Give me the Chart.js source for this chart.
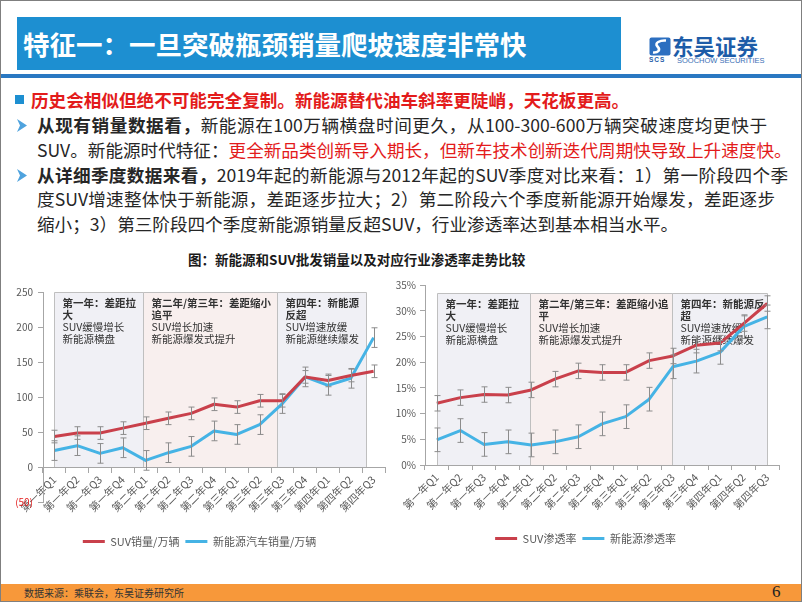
<!DOCTYPE html>
<html lang="zh-CN">
<head>
<meta charset="utf-8">
<title>特征一：一旦突破瓶颈销量爬坡速度非常快</title>
<script src="https://cdn.jsdelivr.net/npm/chart.js@4.4.1/dist/chart.umd.min.js"></script>
<style>
  html, body { margin: 0; padding: 0; background: #fff; }
  body { width: 802px; height: 602px; position: relative; overflow: hidden;
         font-family: 'Noto Sans CJK SC', 'Noto Sans', sans-serif; color: #262626; }
  .abs { position: absolute; }
  #frame { left: 0; top: 0; width: 802px; height: 602px; box-sizing: border-box;
           border: 1px solid #7f7f7f; pointer-events: none; }
  #titlebar { left: 17px; top: 17px; width: 604px; height: 53px; background: #1d8fd1; }
  #title { left: 23px; top: 17px; line-height: 53px; font-size: 26.5px; font-weight: bold;
           color: #fff; white-space: nowrap; }
  #rule { left: 0; top: 74px; width: 802px; height: 4px; background: #2a78c2; }
  .txt { font-size: 17.6px; line-height: 24px; height: 24px; white-space: nowrap; }
  .just { text-align: justify; text-align-last: justify; }
  .red { color: #e31b1b; }
  b { font-weight: bold; }
  #chartTitle { left: 188px; top: 250px; font-size: 13.5px; font-weight: bold; line-height: 18px;
                color: #1a1a1a; white-space: nowrap; }
  canvas { position: absolute; }
  #footer { left: 0; top: 584px; width: 802px; height: 18px; background: #f7983a; }
  #source { left: 24px; top: 585px; font-size: 10px; line-height: 15px; color: #333; white-space: nowrap; }
  #page { left: 772px; top: 582px; font-family: 'Liberation Serif', serif; font-size: 17px;
          line-height: 20px; color: #222; }
</style>
</head>
<body>
  <div id="titlebar" class="abs"></div>
  <div id="title" class="abs">特征一：一旦突破瓶颈销量爬坡速度非常快</div>

  <!-- logo -->
  <svg class="abs" style="left:649px;top:37px" width="22" height="19" viewBox="0 0 22 19">
    <rect x="0.5" y="0.5" width="21" height="18" rx="2" fill="#2c6fc0"/>
    <path d="M17 3.5 C11 3 5 6 8.5 9.5 C12 13 9 16 4 15.5" stroke="#fff" stroke-width="2.6" fill="none"/>
  </svg>
  <div class="abs" style="left:649px;top:56px;font:bold 6.5px 'Liberation Sans',sans-serif;color:#1d5ca8;letter-spacing:1px">SCS</div>
  <div class="abs" style="left:672px;top:33px;font-size:21.5px;font-weight:bold;line-height:26px;color:#1d5ca8;white-space:nowrap">东吴证券</div>
  <div class="abs" style="left:677px;top:56px;font:7.5px 'Liberation Sans',sans-serif;color:#3a6fb5;white-space:nowrap">SOOCHOW SECURITIES</div>

  <div id="rule" class="abs"></div>

  <!-- bullets -->
  <div class="abs" style="left:15px;top:95px;width:9px;height:9px;background:#1d8fd1"></div>
  <div class="abs txt" style="left:31px;top:88px"><b class="red">历史会相似但绝不可能完全复制。新能源替代油车斜率更陡峭，天花板更高。</b></div>

  <svg class="abs" style="left:17px;top:119px" width="10" height="13" viewBox="0 0 10 13">
    <path d="M0 0 L10 6.5 L0 13 L3 6.5 Z" fill="#4fa3de"/>
  </svg>
  <div class="abs txt just" style="left:37px;top:113px;width:730px"><b>从现有销量数据看，</b>新能源在100万辆横盘时间更久，从100-300-600万辆突破速度均更快于</div>
  <div class="abs txt just" style="left:37px;top:138px;width:751px">SUV。新能源时代特征：<span class="red">更全新品类创新导入期长，但新车技术创新迭代周期快导致上升速度快。</span></div>

  <svg class="abs" style="left:17px;top:169px" width="10" height="13" viewBox="0 0 10 13">
    <path d="M0 0 L10 6.5 L0 13 L3 6.5 Z" fill="#4fa3de"/>
  </svg>
  <div class="abs txt just" style="left:37px;top:163px;width:751px"><b>从详细季度数据来看，</b>2019年起的新能源与2012年起的SUV季度对比来看：1）第一阶段四个季</div>
  <div class="abs txt just" style="left:37px;top:187px;width:738px">度SUV增速整体快于新能源，差距逐步拉大；2）第二阶段六个季度新能源开始爆发，差距逐步</div>
  <div class="abs txt" style="left:37px;top:212px">缩小；3）第三阶段四个季度新能源销量反超SUV，行业渗透率达到基本相当水平。</div>

  <div id="chartTitle" class="abs">图：新能源和SUV批发销量以及对应行业渗透率走势比较</div>

  <canvas id="sales-chart" width="386" height="287" style="left:14px;top:270px"></canvas>
  <canvas id="share-chart" width="408" height="284" style="left:392px;top:270px"></canvas>

  <div id="footer" class="abs"></div>
  <div id="source" class="abs">数据来源：乘联会，东吴证券研究所</div>
  <div id="page" class="abs">6</div>

  <div id="frame" class="abs"></div>

<script>
// Chart data
const quarterLabels = ['第一年Q1', '第一年Q2', '第一年Q3', '第一年Q4', '第二年Q1', '第二年Q2', '第二年Q3', '第二年Q4',
  '第三年Q1', '第三年Q2', '第三年Q3', '第三年Q4', '第四年Q1', '第四年Q2', '第四年Q3'];

// 销量（万辆）
const suvSales = [44, 49, 49, 56, 63, 70, 77, 90, 86, 95, 95, 129, 124, 131, 137];
const nevSales = [24, 31, 20, 28, 10, 21, 30, 52, 47, 61, 91, 129, 117, 127, 185];
const suvSalesErr = [9, 9, 9, 9, 9, 9, 9, 9, 9, 9, 9, 9, 9, 9, 9];
const nevSalesErr = [14, 14, 14, 14, 14, 14, 14, 14, 14, 14, 14, 14, 14, 14, 14];
const salesTicks = [-50, 0, 50, 100, 150, 200, 250];

// 渗透率（%）
const suvShare = [12.0, 13.1, 13.7, 13.6, 14.6, 16.7, 18.3, 18.0, 18.0, 20.3, 21.2, 23.3, 23.7, 27.5, 31.4];
const nevShare = [4.9, 6.7, 4.0, 4.5, 3.9, 4.5, 5.5, 8.0, 9.4, 12.8, 19.1, 20.2, 21.9, 26.9, 28.8];
const suvShareErr = [1.5, 1.5, 1.5, 1.5, 1.5, 1.5, 1.5, 1.5, 1.5, 1.5, 1.5, 1.5, 1.5, 1.5, 1.5];
const nevShareErr = [2.3, 2.3, 2.3, 2.3, 2.3, 2.3, 2.3, 2.3, 2.3, 2.3, 2.3, 2.3, 2.3, 2.3, 2.3];
const shareTicks = [0, 5, 10, 15, 20, 25, 30, 35];

// Phase notes
const salesPhaseTitles = [['第一年：差距拉', '大'], ['第二年/第三年：差距缩小', '追平'], ['第四年：新能源', '反超']];
const sharePhaseTitles = [['第一年：差距拉', '大'], ['第二年/第三年：差距缩小追', '平'], ['第四年：新能源反', '超']];
const phaseNotes = [['SUV缓慢增长', '新能源横盘'], ['SUV增长加速', '新能源爆发式提升'], ['SUV增速放缓', '新能源继续爆发']];

const FONT = "'Noto Sans CJK SC', 'Noto Sans', sans-serif";
const AXIS_GRAY = '#a6a6a6';
const TEXT_GRAY = '#595959';
const SUV_RED = '#c9404b';
const NEV_BLUE = '#45b3e5';

Chart.defaults.font.family = FONT;
Chart.defaults.color = TEXT_GRAY;
Chart.defaults.animation = false;

// Shaded phase boxes behind the lines
const phasePlugin = {
  id: 'phases',
  beforeDraw(chart, args, opts) {
    const { ctx, scales: { x, y } } = chart;
    const yTop = Math.round(y.getPixelForValue(opts.top)) + 0.5;
    const yBottom = Math.round(y.getPixelForValue(0)) + 0.5;
    ctx.save();
    opts.spans.forEach((span, i) => {
      const x0 = Math.round(x.getPixelForValue(span[0])) + 0.5;
      const x1 = Math.round(x.getPixelForValue(span[1])) + 0.5;
      ctx.fillStyle = opts.fills[i];
      ctx.fillRect(x0, yTop, x1 - x0, yBottom - yTop);
      ctx.strokeStyle = '#bfbfbf';
      ctx.lineWidth = 1;
      ctx.beginPath();
      ctx.moveTo(x0, yBottom);
      ctx.lineTo(x0, yTop);
      ctx.lineTo(x1, yTop);
      ctx.lineTo(x1, yBottom);
      ctx.stroke();

      ctx.fillStyle = '#333';
      ctx.textBaseline = 'middle';
      ctx.textAlign = 'left';
      let ty = yTop + 11;
      ctx.font = 'bold 10.5px ' + FONT;
      opts.titles[i].forEach(line => { ctx.fillText(line, x0 + 8, ty); ty += 12; });
      ctx.font = '10.5px ' + FONT;
      opts.notes[i].forEach(line => { ctx.fillText(line, x0 + 8, ty); ty += 12; });
    });
    ctx.restore();
  }
};

// Error bars on top of the lines
const errorBarPlugin = {
  id: 'errorBars',
  afterDatasetsDraw(chart) {
    const { ctx, scales: { x, y } } = chart;
    ctx.save();
    ctx.strokeStyle = '#8c8c8c';
    ctx.lineWidth = 1;
    chart.data.datasets.forEach(ds => {
      ds.errors.forEach((err, i) => {
        const px = Math.round(x.getPixelForValue(i)) + 0.5;
        const top = y.getPixelForValue(ds.data[i] + err);
        const bottom = y.getPixelForValue(ds.data[i] - err);
        ctx.beginPath();
        ctx.moveTo(px, top);
        ctx.lineTo(px, bottom);
        ctx.moveTo(px - 3, top);
        ctx.lineTo(px + 3, top);
        ctx.moveTo(px - 3, bottom);
        ctx.lineTo(px + 3, bottom);
        ctx.stroke();
      });
    });
    ctx.restore();
  }
};

function lineDataset(label, data, errors, color) {
  return {
    label, data, errors,
    borderColor: color,
    backgroundColor: color,
    borderWidth: 3,
    pointRadius: 0,
    tension: 0,
    borderJoinStyle: 'round'
  };
}

// gap = empty legend title used as spacing above the legend row
function legendOptions(gap) {
  return {
    position: 'bottom',
    title: { display: gap > 0, text: '', font: { size: 10 }, padding: { top: Math.max(gap - 12, 0), bottom: 0 } },
    labels: {
      boxWidth: 22,
      boxHeight: 3,
      padding: 6,
      color: TEXT_GRAY,
      font: { size: 11 },
      generateLabels: chart => Chart.defaults.plugins.legend.labels.generateLabels(chart)
        .map(item => ({ ...item, lineWidth: 0 }))
    }
  };
}

const xTicks = { autoSkip: false, maxRotation: 45, minRotation: 45, font: { size: 10.5 }, padding: 1, color: TEXT_GRAY };
const axisGrid = { drawOnChartArea: false, tickLength: 5, color: AXIS_GRAY };

// Left: sales
new Chart(document.getElementById('sales-chart').getContext('2d'), {
  type: 'line',
  data: {
    labels: quarterLabels,
    datasets: [
      lineDataset('SUV销量/万辆', suvSales, suvSalesErr, SUV_RED),
      lineDataset('新能源汽车销量/万辆', nevSales, nevSalesErr, NEV_BLUE)
    ]
  },
  plugins: [phasePlugin, errorBarPlugin],
  options: {
    responsive: false,
    devicePixelRatio: 1,
    layout: { padding: { top: 22, left: 0, right: 15, bottom: 0 } },
    plugins: {
      legend: legendOptions(27.5),
      tooltip: { enabled: false },
      phases: {
        top: 250,
        spans: [[0, 3.9], [3.9, 9.75], [9.75, 13.65]],
        fills: ['#f0f0f5', '#f8efee', '#f0f0f5'],
        titles: salesPhaseTitles,
        notes: phaseNotes
      }
    },
    scales: {
      x: {
        position: { y: 0 },
        offset: true,
        grid: { ...axisGrid, offset: true },
        border: { color: AXIS_GRAY },
        ticks: xTicks,
        afterFit: s => { s.height = 0; s.paddingLeft = 0; s.paddingRight = 0; }
      },
      y: {
        min: -50,
        max: 250,
        afterBuildTicks: s => { s.ticks = salesTicks.map(v => ({ value: v })); },
        grid: axisGrid,
        border: { color: AXIS_GRAY },
        ticks: {
          padding: 5,
          font: { size: 10 },
          color: c => c.tick.value < 0 ? '#e31b1b' : TEXT_GRAY,
          callback: v => v < 0 ? '(' + (-v) + ')' : v
        },
        afterFit: s => { s.width = 29; }
      }
    }
  }
});

// Right: penetration rate
new Chart(document.getElementById('share-chart').getContext('2d'), {
  type: 'line',
  data: {
    labels: quarterLabels,
    datasets: [
      lineDataset('SUV渗透率', suvShare, suvShareErr, SUV_RED),
      lineDataset('新能源渗透率', nevShare, nevShareErr, NEV_BLUE)
    ]
  },
  plugins: [phasePlugin, errorBarPlugin],
  options: {
    responsive: false,
    devicePixelRatio: 1,
    layout: { padding: { top: 15, left: 0, right: 21, bottom: 0 } },
    plugins: {
      legend: legendOptions(0),
      tooltip: { enabled: false },
      phases: {
        top: 33.5,
        spans: [[0, 3.95], [3.95, 9.97], [9.97, 14]],
        fills: ['#f0f0f5', '#f8efee', '#f0f0f5'],
        titles: sharePhaseTitles,
        notes: phaseNotes
      }
    },
    scales: {
      x: {
        offset: true,
        grid: { ...axisGrid, offset: true },
        border: { color: AXIS_GRAY },
        ticks: xTicks,
        afterFit: s => { s.height = 62; s.paddingLeft = 0; s.paddingRight = 0; }
      },
      y: {
        min: 0,
        max: 35,
        afterBuildTicks: s => { s.ticks = shareTicks.map(v => ({ value: v })); },
        grid: axisGrid,
        border: { color: AXIS_GRAY },
        ticks: { padding: 4, font: { size: 10 }, callback: v => v + '%' },
        afterFit: s => { s.width = 33; }
      }
    }
  }
});
</script>
</body>
</html>
